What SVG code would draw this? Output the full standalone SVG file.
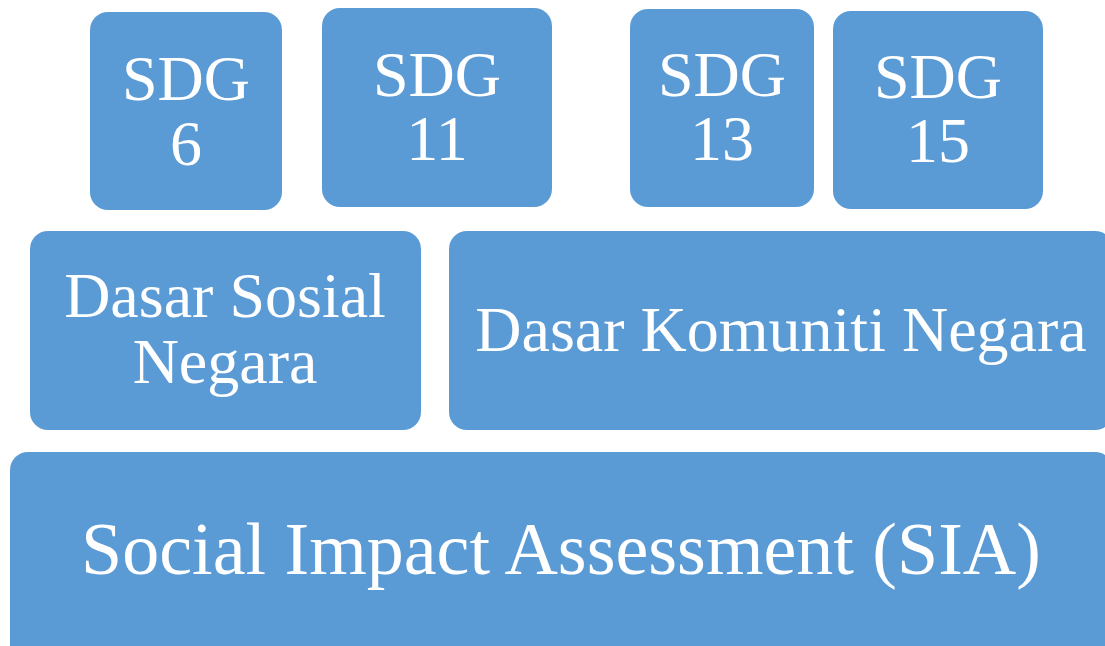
<svg xmlns="http://www.w3.org/2000/svg" width="1105" height="646" viewBox="0 0 1105 646">
<style>
.box{fill:#5B9BD5;}
.t{font-family:"Liberation Serif","Times New Roman",serif;fill:#FFFFFF;text-anchor:middle;font-size:64px;}
.big{font-size:74px;}
</style>
<rect width="1105" height="646" fill="#FFFFFF"/>
<g id="sdg6"><rect class="box" x="90" y="12" width="192" height="198" rx="18"/><text class="t" x="186" y="100">SDG</text><text class="t" x="186" y="165">6</text></g>
<g id="sdg11"><rect class="box" x="322" y="8" width="230" height="199" rx="18"/><text class="t" x="437" y="96">SDG</text><text class="t" x="437" y="160">11</text></g>
<g id="sdg13"><rect class="box" x="630" y="9" width="184" height="198" rx="18"/><text class="t" x="722" y="96">SDG</text><text class="t" x="722" y="160">13</text></g>
<g id="sdg15"><rect class="box" x="833" y="11" width="210" height="198" rx="18"/><text class="t" x="938" y="98">SDG</text><text class="t" x="938" y="162">15</text></g>
<g id="dasar-sosial"><rect class="box" x="30" y="231" width="391" height="199" rx="18"/><text class="t" x="225" y="317">Dasar Sosial</text><text class="t" x="225" y="383">Negara</text></g>
<g id="dasar-komuniti"><rect class="box" x="449" y="231" width="664" height="199" rx="18"/><text class="t" x="781" y="351">Dasar Komuniti Negara</text></g>
<g id="sia"><rect class="box" x="10" y="452" width="1103" height="215" rx="18"/><text class="t big" x="561" y="574">Social Impact Assessment (SIA)</text></g>
<g id="connectors"></g>
</svg>
